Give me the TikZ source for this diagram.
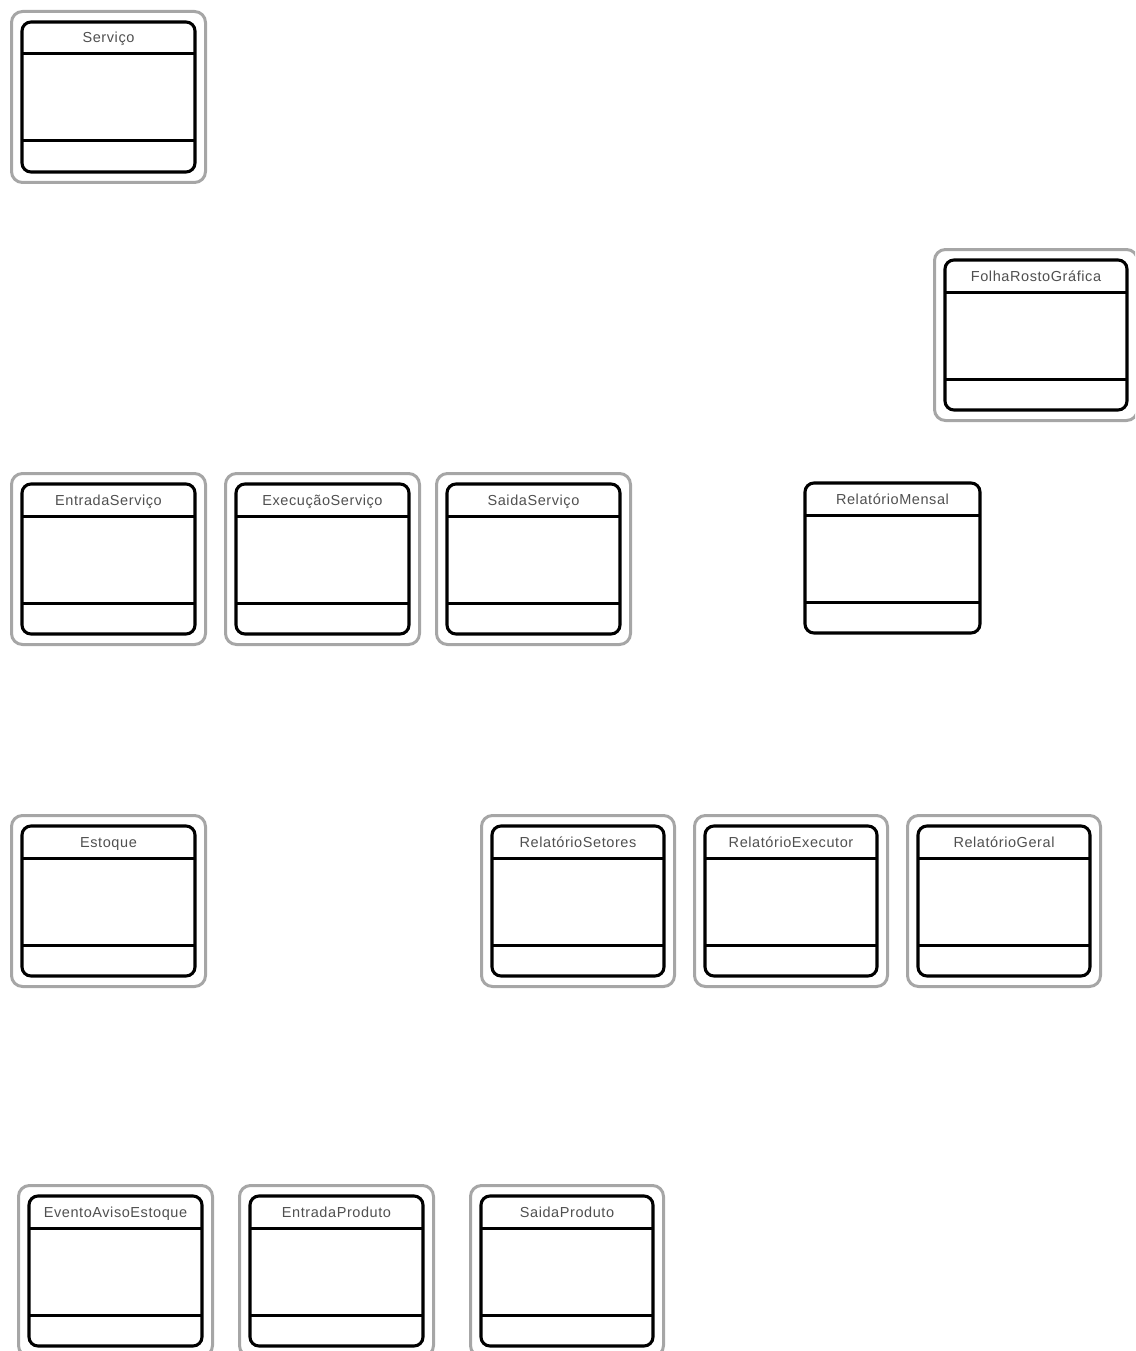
\documentclass[tikz,border=0pt]{standalone}
\usepackage{fontspec}
\newfontfamily\lblfont[LetterSpace=4]{Liberation Sans}
\usetikzlibrary{fit}
\definecolor{selgray}{HTML}{A6A6A6}
\definecolor{lblgray}{HTML}{505050}
\tikzset{
  classbox/.style={draw=black, line width=3.1pt, rounded corners=9pt, fill=white,
    outer sep=0pt, inner sep=0pt, minimum height=150pt},
  selbox/.style={draw=selgray, line width=3pt, rounded corners=11pt, inner sep=10.5pt},
  sepline/.style={draw=black, line width=3pt},
  classlabel/.style={font=\lblfont\fontsize{14.5pt}{16pt}\selectfont, text=lblgray, inner sep=0pt, anchor=base}
}
\newcommand{\umlclass}[5]{%
  \node[classbox, minimum width=#4pt] (#1) at ({#2+#4/2},{#3+75}) {};
  \draw[sepline] ([yshift=-32pt]#1.north west) -- ([yshift=-32pt]#1.north east);
  \draw[sepline] ([yshift=31pt]#1.south west) -- ([yshift=31pt]#1.south east);
  \node[classlabel] (#1-lbl) at ([yshift=-21pt]#1.north) {#5};
}
\newcommand{\umlsel}[1]{%
  \node[selbox, fit=(#1)] (#1-sel) {};
}
\begin{document}
\begin{tikzpicture}[x=1pt,y=-1pt]
\useasboundingbox (0,0) rectangle (1135,1351);
\clip (0,0) rectangle (1135,1351);
% row 1
\umlclass{servico}{22}{22}{173}{Serviço}
\umlsel{servico}
\umlclass{folha}{945}{260}{182}{FolhaRostoGráfica}
\umlsel{folha}
% row 2
\umlclass{entradaserv}{22}{484}{173}{EntradaServiço}
\umlsel{entradaserv}
\umlclass{execserv}{236}{484}{173}{ExecuçãoServiço}
\umlsel{execserv}
\umlclass{saidaserv}{447}{484}{173}{SaidaServiço}
\umlsel{saidaserv}
\umlclass{relmensal}{805}{483}{175}{RelatórioMensal}
% row 3
\umlclass{estoque}{22}{826}{173}{Estoque}
\umlsel{estoque}
\umlclass{relsetores}{492}{826}{172}{RelatórioSetores}
\umlsel{relsetores}
\umlclass{relexec}{705}{826}{172}{RelatórioExecutor}
\umlsel{relexec}
\umlclass{relgeral}{918}{826}{172}{RelatórioGeral}
\umlsel{relgeral}
% row 4
\umlclass{evento}{29}{1196}{173}{EventoAvisoEstoque}
\umlsel{evento}
\umlclass{entradaprod}{250}{1196}{173}{EntradaProduto}
\umlsel{entradaprod}
\umlclass{saidaprod}{481}{1196}{172}{SaidaProduto}
\umlsel{saidaprod}
\end{tikzpicture}
\end{document}
